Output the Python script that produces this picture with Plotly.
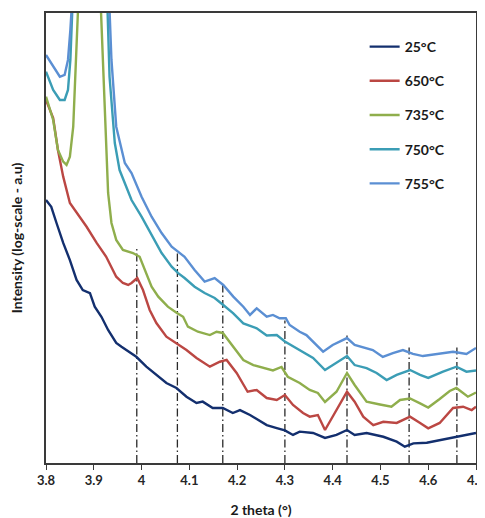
import numpy as np
import plotly.graph_objects as go

# ---- data (2 theta in degrees, log10 intensity, arbitrary units) ----
series_names = ["25°C", "650°C", "735°C", "750°C", "755°C"]
series_colors = ["#132f6e", "#bb4743", "#8fae4c", "#3b9db5", "#5b8fd3"]

x_25 = [3.800, 3.811, 3.822, 3.836, 3.850, 3.864, 3.877, 3.892, 3.902, 3.916, 3.930, 3.947, 3.958,
        3.972, 3.989, 4.010, 4.031, 4.052, 4.073, 4.094, 4.115, 4.128, 4.149, 4.170, 4.191, 4.206,
        4.227, 4.262, 4.283, 4.300, 4.317, 4.331, 4.359, 4.384, 4.408, 4.430, 4.446, 4.471, 4.506,
        4.534, 4.551, 4.569, 4.597, 4.624, 4.659, 4.680, 4.700]
logI_25 = [1.753, 1.708, 1.600, 1.467, 1.353, 1.220, 1.153, 1.133, 1.042, 0.975, 0.887, 0.800, 0.775,
           0.742, 0.708, 0.642, 0.587, 0.533, 0.500, 0.442, 0.400, 0.409, 0.367, 0.367, 0.333, 0.353,
           0.320, 0.253, 0.233, 0.217, 0.187, 0.209, 0.200, 0.167, 0.187, 0.220, 0.187, 0.200, 0.175,
           0.142, 0.109, 0.131, 0.135, 0.153, 0.175, 0.187, 0.200]

x_650 = [3.800, 3.815, 3.825, 3.836, 3.850, 3.864, 3.885, 3.906, 3.926, 3.947, 3.961, 3.972, 3.979,
         3.991, 4.003, 4.017, 4.031, 4.052, 4.073, 4.094, 4.115, 4.143, 4.164, 4.178, 4.199, 4.222,
         4.241, 4.262, 4.283, 4.300, 4.317, 4.338, 4.352, 4.369, 4.384, 4.408, 4.430, 4.446, 4.464,
         4.485, 4.506, 4.534, 4.562, 4.583, 4.600, 4.624, 4.652, 4.673, 4.691, 4.700]
logI_650 = [2.420, 2.300, 2.087, 1.909, 1.733, 1.667, 1.575, 1.467, 1.375, 1.242, 1.200, 1.187, 1.200,
            1.233, 1.153, 1.020, 0.933, 0.842, 0.800, 0.753, 0.700, 0.642, 0.675, 0.687, 0.600, 0.475,
            0.487, 0.433, 0.420, 0.453, 0.387, 0.333, 0.309, 0.320, 0.220, 0.353, 0.475, 0.409, 0.309,
            0.253, 0.275, 0.267, 0.309, 0.267, 0.231, 0.267, 0.367, 0.375, 0.353, 0.375]

x_735 = [3.800, 3.815, 3.825, 3.836, 3.843, 3.850, 3.857, 3.862, 3.868, 3.914, 3.923, 3.930, 3.937,
         3.947, 3.961, 3.982, 3.996, 4.007, 4.021, 4.035, 4.055, 4.074, 4.087, 4.097, 4.118, 4.143,
         4.157, 4.170, 4.191, 4.213, 4.234, 4.254, 4.275, 4.293, 4.306, 4.331, 4.352, 4.369, 4.384,
         4.408, 4.430, 4.446, 4.471, 4.499, 4.523, 4.541, 4.562, 4.583, 4.600, 4.624, 4.645, 4.659,
         4.683, 4.700]
logI_735 = [2.442, 2.287, 2.087, 2.009, 1.987, 2.042, 2.242, 2.575, 3.100, 3.100, 2.353, 1.800, 1.600,
            1.487, 1.420, 1.400, 1.375, 1.287, 1.175, 1.109, 1.042, 1.000, 0.975, 0.909, 0.875, 0.853,
            0.875, 0.867, 0.775, 0.687, 0.653, 0.633, 0.617, 0.640, 0.575, 0.533, 0.487, 0.467, 0.407,
            0.475, 0.600, 0.520, 0.409, 0.390, 0.375, 0.420, 0.430, 0.397, 0.370, 0.427, 0.480, 0.500,
            0.442, 0.470]

x_750 = [3.800, 3.815, 3.829, 3.839, 3.846, 3.851, 3.856, 3.928, 3.933, 3.944, 3.954, 3.972, 3.979,
         4.000, 4.021, 4.042, 4.063, 4.076, 4.090, 4.111, 4.132, 4.153, 4.171, 4.192, 4.213, 4.241,
         4.262, 4.283, 4.300, 4.324, 4.359, 4.384, 4.408, 4.430, 4.446, 4.471, 4.492, 4.513, 4.534,
         4.562, 4.583, 4.600, 4.631, 4.659, 4.680, 4.700]
logI_750 = [2.609, 2.487, 2.420, 2.420, 2.487, 2.687, 3.100, 3.100, 2.575, 2.133, 1.953, 1.800, 1.753,
            1.642, 1.520, 1.400, 1.309, 1.267, 1.233, 1.175, 1.133, 1.100, 1.053, 0.998, 0.931, 0.898,
            0.850, 0.853, 0.810, 0.767, 0.700, 0.620, 0.667, 0.713, 0.653, 0.633, 0.600, 0.553, 0.587,
            0.620, 0.587, 0.567, 0.609, 0.642, 0.609, 0.617]

x_755 = [3.800, 3.815, 3.829, 3.839, 3.846, 3.851, 3.855, 3.932, 3.937, 3.947, 3.958, 3.965, 3.979,
         4.000, 4.021, 4.042, 4.063, 4.076, 4.090, 4.111, 4.132, 4.153, 4.171, 4.192, 4.213, 4.227,
         4.241, 4.262, 4.275, 4.289, 4.302, 4.310, 4.331, 4.345, 4.380, 4.400, 4.430, 4.446, 4.471,
         4.484, 4.505, 4.526, 4.547, 4.568, 4.589, 4.624, 4.652, 4.680, 4.700]
logI_755 = [2.720, 2.642, 2.575, 2.587, 2.687, 2.887, 3.100, 3.100, 2.687, 2.242, 2.087, 2.000, 1.933,
            1.775, 1.642, 1.533, 1.442, 1.409, 1.375, 1.287, 1.209, 1.233, 1.187, 1.109, 1.042, 0.987,
            1.031, 0.975, 0.987, 0.965, 0.965, 0.920, 0.875, 0.853, 0.742, 0.787, 0.833, 0.787, 0.767,
            0.753, 0.707, 0.733, 0.753, 0.727, 0.713, 0.727, 0.742, 0.727, 0.767]

# reflection markers (dash-dot lines): position and the log-intensity where each line ends
peak_positions = [3.99, 4.075, 4.17, 4.30, 4.43, 4.56, 4.66]
peak_tops = [1.44, 1.41, 1.20, 0.95, 0.85, 0.77, 0.77]

x_ticks = [3.8, 3.9, 4.0, 4.1, 4.2, 4.3, 4.4, 4.5, 4.6, 4.7]
x_tick_labels = ["3.8", "3.9", "4", "4.1", "4.2", "4.3", "4.4", "4.5", "4.6", "4.7"]
x_range = [3.8, 4.7]
y_log_range = [0, 3]

FONT = "Lato, Carlito, 'Open Sans', sans-serif"

fig = go.Figure()

for px_, top in zip(peak_positions, peak_tops):
    fig.add_trace(go.Scatter(
        x=[px_, px_], y=[10 ** y_log_range[0], 10 ** top], mode="lines",
        line=dict(color="#2a2a2a", width=1.3, dash="8px,3px,1.5px,3px"),
        showlegend=False, hoverinfo="skip"))

xs = [x_25, x_650, x_735, x_750, x_755]
ys = [logI_25, logI_650, logI_735, logI_750, logI_755]
for name, color, xv, yv in zip(series_names, series_colors, xs, ys):
    fig.add_trace(go.Scatter(
        x=xv, y=10 ** np.array(yv), mode="lines", name=name, legendgroup=name,
        line=dict(color=color, width=2.4, shape="linear")))

# the page body adds an 8px offset, so the margins compensate for it
fig.update_layout(
    width=485, height=510,
    margin=dict(l=38, r=16.5, t=5, b=55, autoexpand=False),
    paper_bgcolor="white", plot_bgcolor="white",
    font=dict(family=FONT, color="#1a1a1a"),
    legend=dict(
        x=319 / 430.5, xanchor="left",
        y=1 - 18 / 450, yanchor="top",
        font=dict(family=FONT, size=14, color="#1a1a1a", weight="bold"),
        tracegroupgap=13, bgcolor="rgba(0,0,0,0)", itemwidth=30),
    xaxis=dict(
        range=[x_range[0] - 1e-6, x_range[1] + 1e-6], tickmode="array",
        tickvals=x_ticks, ticktext=x_tick_labels, automargin=False,
        ticklabeloverflow="allow",
        showline=True, linecolor="#3a3a3a", linewidth=1.5, mirror=True,
        ticks="outside", ticklen=5, tickwidth=1.2, tickcolor="#3a3a3a",
        showgrid=False, zeroline=False,
        tickfont=dict(family=FONT, size=13, color="#262626", weight="bold"),
        title=dict(text="2 theta (°)", standoff=18,
                   font=dict(family=FONT, size=14, color="#1a1a1a", weight="bold"))),
    yaxis=dict(
        type="log", range=y_log_range, showticklabels=False, ticks="", automargin=False,
        showline=True, linecolor="#3a3a3a", linewidth=1.5, mirror=True,
        showgrid=False, zeroline=False,
        title=dict(text="Intensity (log-scale - a.u)", standoff=19,
                   font=dict(family=FONT, size=14, color="#1a1a1a", weight="bold"))),
)

fig.write_html("out.html")
